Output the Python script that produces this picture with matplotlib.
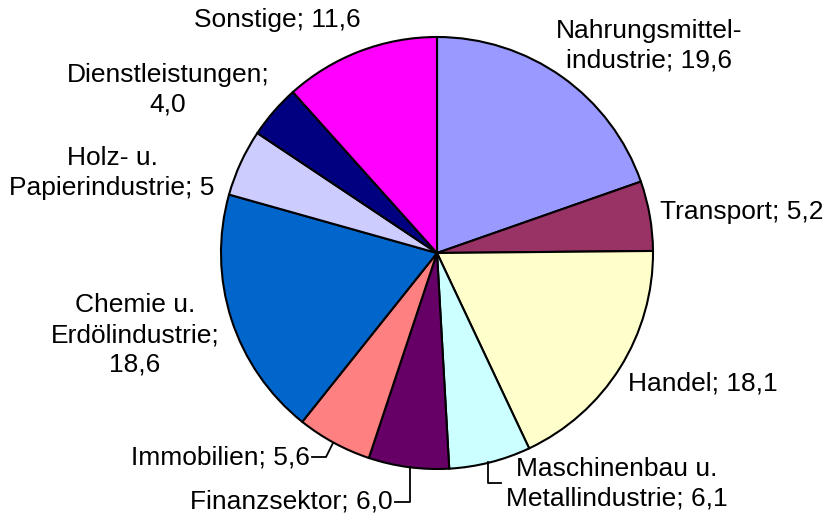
import matplotlib.pyplot as plt

plt.rcParams['font.family'] = ['Liberation Sans', 'DejaVu Sans']

# Anteile je Sektor (im Uhrzeigersinn ab 12 Uhr)
sektoren = ['Nahrungsmittel-\nindustrie', 'Transport', 'Handel',
            'Maschinenbau u.\nMetallindustrie', 'Finanzsektor', 'Immobilien',
            'Chemie u.\nErdölindustrie;\n', 'Holz- u.\nPapierindustrie',
            'Dienstleistungen;\n', 'Sonstige']
werte = [19.6, 5.2, 18.1, 6.1, 6.0, 5.6, 18.6, 5, 4.0, 11.6]
wert_text = ['19,6', '5,2', '18,1', '6,1', '6,0', '5,6', '18,6', '5', '4,0', '11,6']
farben = ['#9999FF', '#993366', '#FFFFCC', '#CCFFFF', '#660066',
          '#FF8080', '#0066CC', '#CCCCFF', '#000080', '#FF00FF']

# Beschriftungspositionen (Pixel, y von unten)
lab_pos = [(649, 472, 'center'), (660, 306, 'left'), (628, 135, 'left'),
           (617, 34, 'center'), (393, 16, 'right'), (310, 61, 'right'),
           (135, 183, 'center'), (112, 345, 'center'), (168, 428, 'center'),
           (277, 498, 'center')]

W, H = 828, 518
fig = plt.figure(figsize=(W / 100, H / 100), dpi=100)
ax = fig.add_axes([0, 0, 1, 1])

ax.pie(werte, colors=farben, startangle=90, counterclock=False,
       center=(437, H - 253), radius=216,
       wedgeprops=dict(edgecolor='black', linewidth=1.5))

for name, wt, (x, y, ha) in zip(sektoren, wert_text, lab_pos):
    if name.endswith('\n'):
        txt = name + wt
    else:
        txt = name + '; ' + wt
    ax.text(x, y, txt, ha=ha, va='center', fontsize=19, linespacing=1.3)

# Führungslinien
ax.plot([312, 326, 333], [H - 457, H - 457, H - 443], color='black', lw=1.3)
ax.plot([395, 410, 410], [H - 502, H - 502, H - 467], color='black', lw=1.3)
ax.plot([488, 488, 501], [H - 462, H - 483, H - 483], color='black', lw=1.3)

ax.set_xlim(0, W)
ax.set_ylim(0, H)
ax.set_aspect('equal')
ax.axis('off')

fig.savefig('out.png', dpi=100)
